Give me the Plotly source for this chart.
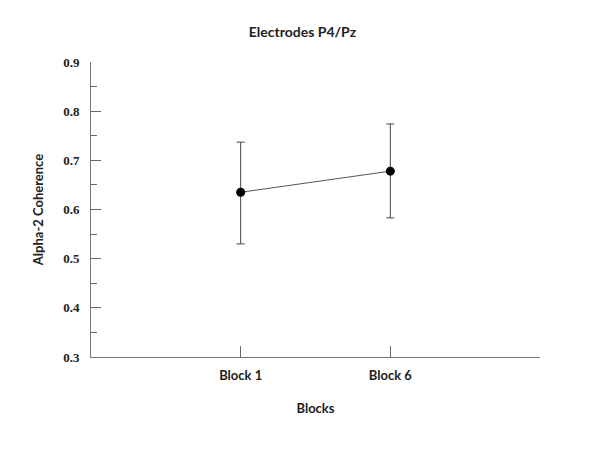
import plotly.graph_objects as go

blocks = ["Block 1", "Block 6"]
coherence = [0.635, 0.678]
err_plus = [0.102, 0.096]
err_minus = [0.105, 0.095]

y_ticks = [0.3, 0.4, 0.5, 0.6, 0.7, 0.8, 0.9]

x_pos = list(range(1, len(blocks) + 1))

sans = dict(family="Lato", size=13, color="#222", weight=700)
serif = dict(family="Liberation Serif", size=13, color="#222", weight=700)

fig = go.Figure()
fig.add_trace(
    go.Scatter(
        x=x_pos,
        y=coherence,
        mode="lines+markers",
        line=dict(color="#555", width=1),
        marker=dict(color="black", size=9),
        error_y=dict(
            type="data",
            symmetric=False,
            array=err_plus,
            arrayminus=err_minus,
            color="#444",
            thickness=1,
            width=4,
        ),
        showlegend=False,
    )
)

# page body has an 8px margin, so shift the plot area up/left by that much
fig.update_layout(
    width=600,
    height=450,
    paper_bgcolor="white",
    plot_bgcolor="white",
    margin=dict(l=83, r=68, t=54, b=101),
    title=dict(
        text="Electrodes P4/Pz",
        x=0.471,
        xref="paper",
        xanchor="center",
        y=1 - 24 / 450,
        yanchor="middle",
        font=dict(sans, size=14),
    ),
    xaxis=dict(
        range=[0, len(blocks) + 1],
        tickvals=x_pos + [len(blocks) + 1],
        ticktext=blocks + [""],
        ticks="inside",
        ticklen=11,
        tickcolor="#666",
        tickfont=sans,
        ticklabelstandoff=6,
        showline=True,
        linecolor="#777",
        linewidth=1,
        showgrid=False,
        zeroline=False,
        title=dict(text="Blocks", font=sans, standoff=22),
    ),
    yaxis=dict(
        range=[0.3, 0.9],
        tickvals=y_ticks,
        ticktext=[f"{v:.1f}" for v in y_ticks],
        ticks="inside",
        ticklen=10,
        tickcolor="#666",
        tickfont=serif,
        ticklabelstandoff=8,
        minor=dict(dtick=0.05, tick0=0.3, ticks="inside", ticklen=6, tickcolor="#666", showgrid=False),
        showline=True,
        linecolor="#777",
        linewidth=1,
        showgrid=False,
        zeroline=False,
        title=dict(text="Alpha-2 Coherence", font=sans, standoff=16),
    ),
)

fig.write_html("out.html")
